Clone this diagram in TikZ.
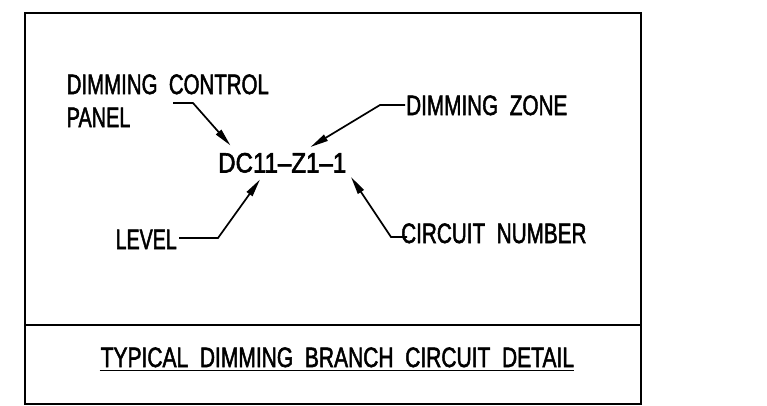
\documentclass[tikz,border=0pt]{standalone}
\usepackage{fontspec}
\newfontfamily\cadfont[FakeBold=2.2]{Liberation Sans}
\usetikzlibrary{arrows.meta}
\newcommand{\cad}[2]{\scalebox{#1}[1]{#2}}
\tikzset{
  lbl/.style={anchor=base west, inner sep=0pt, font=\fontsize{28}{30}\cadfont},
  frame/.style={line width=2.4pt},
  leader/.style={line width=1.7pt, -{Triangle[length=18pt,width=7pt]}},
}
\begin{document}
\begin{tikzpicture}[x=1pt,y=-1pt]
\useasboundingbox (0,0) rectangle (767,405);
% frame
\draw[frame] (25,13) rectangle (641,404);
\draw[frame] (25,325) -- (641,325);
% labels
\node[lbl] (dcp1) at (66.5,94) {\cad{0.73}{DIMMING~~CONTROL}};
\node[lbl] (dcp2) at (66.5,127) {\cad{0.71}{PANEL}};
\node[lbl] (code) at (218,172.5) {\cad{0.86}{DC11–Z1–1}};
\node[lbl] (zone) at (406,115) {\cad{0.74}{DIMMING~~ZONE}};
\node[lbl] (level) at (115.5,249) {\cad{0.70}{LEVEL}};
\node[lbl] (circ) at (401,243) {\cad{0.74}{CIRCUIT~~NUMBER}};
\node[lbl] (title) at (100.5,367) {\cad{0.75}{TYPICAL~~DIMMING~~BRANCH~~CIRCUIT~~DETAIL}};
\draw[line width=1.8pt] (title.south west) ++(-1,3) coordinate (ulA) -- (ulA -| title.south east);
% leader points
\coordinate (dcpS) at (173,103);
\coordinate (dcpB) at (193,103);
\coordinate (tipDCP) at (230.5,145.5);
\coordinate (zoneS) at (405,105);
\coordinate (zoneB) at (380,105);
\coordinate (tipZone) at (310.5,147);
\coordinate (levelS) at (179,238);
\coordinate (levelB) at (218,238);
\coordinate (tipLevel) at (260,179.5);
\coordinate (circS) at (407,237);
\coordinate (circB) at (391,237);
\coordinate (tipCirc) at (351,177);
% leaders
\draw[leader] (dcpS) -- (dcpB) -- (tipDCP);
\draw[leader] (zoneS) -- (zoneB) -- (tipZone);
\draw[leader] (levelS) -- (levelB) -- (tipLevel);
\draw[leader] (circS) -- (circB) -- (tipCirc);
\end{tikzpicture}
\end{document}
